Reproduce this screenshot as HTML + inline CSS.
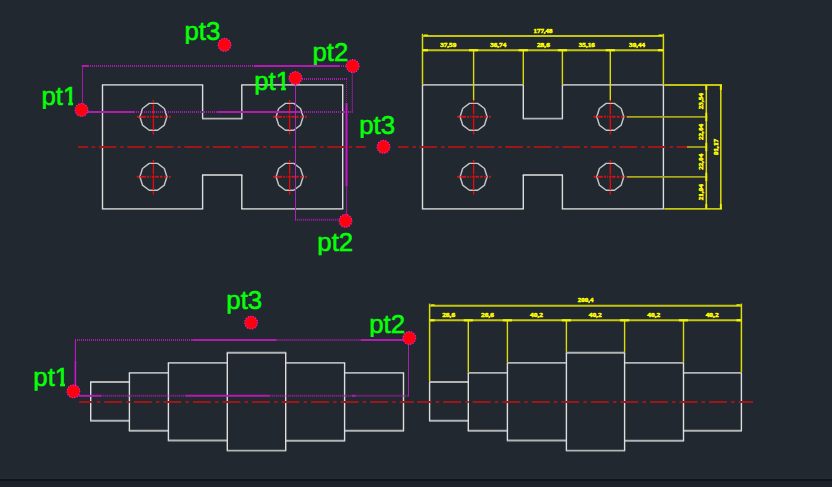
<!DOCTYPE html>
<html lang="en">
<head>
<meta charset="utf-8">
<title>CAD selection points</title>
<style>
html,body{margin:0;padding:0;background:#212830;overflow:hidden}
body{width:832px;height:487px;position:relative;font-family:"Liberation Sans",sans-serif}
svg{position:absolute;left:0;top:0;display:block}
.bar{position:absolute;left:0;top:479px;width:832px;height:8px;background:#1d212a;border-top:2px solid #11151a;box-sizing:border-box}
.glow{position:absolute;left:0;top:476px;width:832px;height:3px;background:linear-gradient(#212830,#232a34)}
text{font-family:"Liberation Sans",sans-serif}
text.d{font-family:"Liberation Serif",serif;font-weight:bold;font-size:6.3px;fill:#ffff00;stroke:#ffff00;stroke-width:0.5px;text-anchor:middle}
</style>
</head>
<body>
<div class="glow"></div>
<div class="bar"></div>
<svg width="832" height="487" viewBox="0 0 832 487">
<defs><clipPath id="desc" clipPathUnits="userSpaceOnUse"><rect x="-3" y="-30" width="60" height="34.4"/></clipPath><clipPath id="one" clipPathUnits="userSpaceOnUse"><path d="M-2 -30H40V-3.4H31.9V3H27V-3.4H-2Z"/></clipPath></defs>
<g id="plate-left">
<line x1="101.9" y1="84.9" x2="203.2" y2="84.9" stroke="#b2b4b6" stroke-width="1.9" />
<line x1="241.2" y1="84.9" x2="343.3" y2="84.9" stroke="#b2b4b6" stroke-width="1.9" />
<line x1="202" y1="118.6" x2="242.4" y2="118.6" stroke="#b2b4b6" stroke-width="1.9" />
<line x1="101.9" y1="208.9" x2="203.2" y2="208.9" stroke="#b2b4b6" stroke-width="1.9" />
<line x1="241.2" y1="208.9" x2="343.3" y2="208.9" stroke="#b2b4b6" stroke-width="1.9" />
<line x1="202" y1="175" x2="242.4" y2="175" stroke="#b2b4b6" stroke-width="1.9" />
<line x1="102.5" y1="84.9" x2="102.5" y2="208.9" stroke="#dededf" stroke-width="1.4" />
<line x1="342.7" y1="84.9" x2="342.7" y2="208.9" stroke="#dededf" stroke-width="1.4" />
<line x1="202.6" y1="84.9" x2="202.6" y2="118.6" stroke="#dededf" stroke-width="1.4" />
<line x1="241.8" y1="84.9" x2="241.8" y2="118.6" stroke="#dededf" stroke-width="1.4" />
<line x1="202.6" y1="175" x2="202.6" y2="208.9" stroke="#dededf" stroke-width="1.4" />
<line x1="241.8" y1="175" x2="241.8" y2="208.9" stroke="#dededf" stroke-width="1.4" />
<polygon points="166.9,116.8 164.32,108.51 157.57,103.39 149.23,103.39 142.48,108.51 139.9,116.8 142.48,125.09 149.23,130.21 157.57,130.21 164.32,125.09" fill="none" stroke="#c2c3c5" stroke-width="1.45" stroke-linejoin="round"/>
<line x1="136.8" y1="116.8" x2="139.2" y2="116.8" stroke="#d41214" stroke-width="1.9" />
<line x1="140.2" y1="116.8" x2="145.9" y2="116.8" stroke="#d41214" stroke-width="1.9" />
<line x1="147.1" y1="116.8" x2="148.9" y2="116.8" stroke="#d41214" stroke-width="1.9" />
<line x1="150.2" y1="116.8" x2="151.2" y2="116.8" stroke="#d41214" stroke-width="1.9" />
<line x1="152.1" y1="116.8" x2="154.5" y2="116.8" stroke="#d41214" stroke-width="1.9" />
<line x1="155.3" y1="116.8" x2="158.6" y2="116.8" stroke="#d41214" stroke-width="1.9" />
<line x1="160" y1="116.8" x2="162.4" y2="116.8" stroke="#d41214" stroke-width="1.9" />
<line x1="163.9" y1="116.8" x2="166.5" y2="116.8" stroke="#d41214" stroke-width="1.9" />
<line x1="168.9" y1="116.8" x2="170.7" y2="116.8" stroke="#d41214" stroke-width="1.9" />
<line x1="153.4" y1="99.9" x2="153.4" y2="103.1" stroke="#f00808" stroke-width="1.3" />
<line x1="153.4" y1="104.1" x2="153.4" y2="114.4" stroke="#f00808" stroke-width="1.3" />
<line x1="153.4" y1="115.4" x2="153.4" y2="117.3" stroke="#f00808" stroke-width="1.3" />
<line x1="153.4" y1="118.3" x2="153.4" y2="130.2" stroke="#f00808" stroke-width="1.3" />
<line x1="153.4" y1="131.2" x2="153.4" y2="134.4" stroke="#f00808" stroke-width="1.3" />
<polygon points="166.9,176.8 164.32,168.51 157.57,163.39 149.23,163.39 142.48,168.51 139.9,176.8 142.48,185.09 149.23,190.21 157.57,190.21 164.32,185.09" fill="none" stroke="#c2c3c5" stroke-width="1.45" stroke-linejoin="round"/>
<line x1="136.8" y1="176.8" x2="139.2" y2="176.8" stroke="#d41214" stroke-width="1.9" />
<line x1="140.2" y1="176.8" x2="145.9" y2="176.8" stroke="#d41214" stroke-width="1.9" />
<line x1="147.1" y1="176.8" x2="148.9" y2="176.8" stroke="#d41214" stroke-width="1.9" />
<line x1="150.2" y1="176.8" x2="151.2" y2="176.8" stroke="#d41214" stroke-width="1.9" />
<line x1="152.1" y1="176.8" x2="154.5" y2="176.8" stroke="#d41214" stroke-width="1.9" />
<line x1="155.3" y1="176.8" x2="158.6" y2="176.8" stroke="#d41214" stroke-width="1.9" />
<line x1="160" y1="176.8" x2="162.4" y2="176.8" stroke="#d41214" stroke-width="1.9" />
<line x1="163.9" y1="176.8" x2="166.5" y2="176.8" stroke="#d41214" stroke-width="1.9" />
<line x1="168.9" y1="176.8" x2="170.7" y2="176.8" stroke="#d41214" stroke-width="1.9" />
<line x1="153.4" y1="159.9" x2="153.4" y2="163.1" stroke="#f00808" stroke-width="1.3" />
<line x1="153.4" y1="164.1" x2="153.4" y2="174.4" stroke="#f00808" stroke-width="1.3" />
<line x1="153.4" y1="175.4" x2="153.4" y2="177.3" stroke="#f00808" stroke-width="1.3" />
<line x1="153.4" y1="178.3" x2="153.4" y2="190.2" stroke="#f00808" stroke-width="1.3" />
<line x1="153.4" y1="191.2" x2="153.4" y2="194.4" stroke="#f00808" stroke-width="1.3" />
<polygon points="303.1,116.8 300.52,108.51 293.77,103.39 285.43,103.39 278.68,108.51 276.1,116.8 278.68,125.09 285.43,130.21 293.77,130.21 300.52,125.09" fill="none" stroke="#c2c3c5" stroke-width="1.45" stroke-linejoin="round"/>
<line x1="273" y1="116.8" x2="275.4" y2="116.8" stroke="#d41214" stroke-width="1.9" />
<line x1="276.4" y1="116.8" x2="282.1" y2="116.8" stroke="#d41214" stroke-width="1.9" />
<line x1="283.3" y1="116.8" x2="285.1" y2="116.8" stroke="#d41214" stroke-width="1.9" />
<line x1="286.4" y1="116.8" x2="287.4" y2="116.8" stroke="#d41214" stroke-width="1.9" />
<line x1="288.3" y1="116.8" x2="290.7" y2="116.8" stroke="#d41214" stroke-width="1.9" />
<line x1="291.5" y1="116.8" x2="294.8" y2="116.8" stroke="#d41214" stroke-width="1.9" />
<line x1="296.2" y1="116.8" x2="298.6" y2="116.8" stroke="#d41214" stroke-width="1.9" />
<line x1="300.1" y1="116.8" x2="302.7" y2="116.8" stroke="#d41214" stroke-width="1.9" />
<line x1="305.1" y1="116.8" x2="306.9" y2="116.8" stroke="#d41214" stroke-width="1.9" />
<line x1="289.6" y1="99.9" x2="289.6" y2="103.1" stroke="#f00808" stroke-width="1.3" />
<line x1="289.6" y1="104.1" x2="289.6" y2="114.4" stroke="#f00808" stroke-width="1.3" />
<line x1="289.6" y1="115.4" x2="289.6" y2="117.3" stroke="#f00808" stroke-width="1.3" />
<line x1="289.6" y1="118.3" x2="289.6" y2="130.2" stroke="#f00808" stroke-width="1.3" />
<line x1="289.6" y1="131.2" x2="289.6" y2="134.4" stroke="#f00808" stroke-width="1.3" />
<polygon points="303.1,176.8 300.52,168.51 293.77,163.39 285.43,163.39 278.68,168.51 276.1,176.8 278.68,185.09 285.43,190.21 293.77,190.21 300.52,185.09" fill="none" stroke="#c2c3c5" stroke-width="1.45" stroke-linejoin="round"/>
<line x1="273" y1="176.8" x2="275.4" y2="176.8" stroke="#d41214" stroke-width="1.9" />
<line x1="276.4" y1="176.8" x2="282.1" y2="176.8" stroke="#d41214" stroke-width="1.9" />
<line x1="283.3" y1="176.8" x2="285.1" y2="176.8" stroke="#d41214" stroke-width="1.9" />
<line x1="286.4" y1="176.8" x2="287.4" y2="176.8" stroke="#d41214" stroke-width="1.9" />
<line x1="288.3" y1="176.8" x2="290.7" y2="176.8" stroke="#d41214" stroke-width="1.9" />
<line x1="291.5" y1="176.8" x2="294.8" y2="176.8" stroke="#d41214" stroke-width="1.9" />
<line x1="296.2" y1="176.8" x2="298.6" y2="176.8" stroke="#d41214" stroke-width="1.9" />
<line x1="300.1" y1="176.8" x2="302.7" y2="176.8" stroke="#d41214" stroke-width="1.9" />
<line x1="305.1" y1="176.8" x2="306.9" y2="176.8" stroke="#d41214" stroke-width="1.9" />
<line x1="289.6" y1="159.9" x2="289.6" y2="163.1" stroke="#f00808" stroke-width="1.3" />
<line x1="289.6" y1="164.1" x2="289.6" y2="174.4" stroke="#f00808" stroke-width="1.3" />
<line x1="289.6" y1="175.4" x2="289.6" y2="177.3" stroke="#f00808" stroke-width="1.3" />
<line x1="289.6" y1="178.3" x2="289.6" y2="190.2" stroke="#f00808" stroke-width="1.3" />
<line x1="289.6" y1="191.2" x2="289.6" y2="194.4" stroke="#f00808" stroke-width="1.3" />
</g>
<g id="plate-right">
<line x1="421.9" y1="84.9" x2="523.9" y2="84.9" stroke="#b2b4b6" stroke-width="1.9" />
<line x1="561.8" y1="84.9" x2="664" y2="84.9" stroke="#b2b4b6" stroke-width="1.9" />
<line x1="522.7" y1="118.6" x2="563" y2="118.6" stroke="#b2b4b6" stroke-width="1.9" />
<line x1="421.9" y1="208.9" x2="523.9" y2="208.9" stroke="#b2b4b6" stroke-width="1.9" />
<line x1="561.8" y1="208.9" x2="664" y2="208.9" stroke="#b2b4b6" stroke-width="1.9" />
<line x1="522.7" y1="175" x2="563" y2="175" stroke="#b2b4b6" stroke-width="1.9" />
<line x1="422.5" y1="84.9" x2="422.5" y2="208.9" stroke="#dededf" stroke-width="1.4" />
<line x1="663.4" y1="84.9" x2="663.4" y2="208.9" stroke="#dededf" stroke-width="1.4" />
<line x1="523.3" y1="84.9" x2="523.3" y2="118.6" stroke="#dededf" stroke-width="1.4" />
<line x1="562.4" y1="84.9" x2="562.4" y2="118.6" stroke="#dededf" stroke-width="1.4" />
<line x1="523.3" y1="175" x2="523.3" y2="208.9" stroke="#dededf" stroke-width="1.4" />
<line x1="562.4" y1="175" x2="562.4" y2="208.9" stroke="#dededf" stroke-width="1.4" />
<polygon points="487.1,116.8 484.52,108.51 477.77,103.39 469.43,103.39 462.68,108.51 460.1,116.8 462.68,125.09 469.43,130.21 477.77,130.21 484.52,125.09" fill="none" stroke="#c2c3c5" stroke-width="1.45" stroke-linejoin="round"/>
<line x1="457" y1="116.8" x2="459.4" y2="116.8" stroke="#d41214" stroke-width="1.9" />
<line x1="460.4" y1="116.8" x2="466.1" y2="116.8" stroke="#d41214" stroke-width="1.9" />
<line x1="467.3" y1="116.8" x2="469.1" y2="116.8" stroke="#d41214" stroke-width="1.9" />
<line x1="470.4" y1="116.8" x2="471.4" y2="116.8" stroke="#d41214" stroke-width="1.9" />
<line x1="472.3" y1="116.8" x2="474.7" y2="116.8" stroke="#d41214" stroke-width="1.9" />
<line x1="475.5" y1="116.8" x2="478.8" y2="116.8" stroke="#d41214" stroke-width="1.9" />
<line x1="480.2" y1="116.8" x2="482.6" y2="116.8" stroke="#d41214" stroke-width="1.9" />
<line x1="484.1" y1="116.8" x2="486.7" y2="116.8" stroke="#d41214" stroke-width="1.9" />
<line x1="489.1" y1="116.8" x2="490.9" y2="116.8" stroke="#d41214" stroke-width="1.9" />
<line x1="473.6" y1="99.9" x2="473.6" y2="103.1" stroke="#f00808" stroke-width="1.3" />
<line x1="473.6" y1="104.1" x2="473.6" y2="114.4" stroke="#f00808" stroke-width="1.3" />
<line x1="473.6" y1="115.4" x2="473.6" y2="117.3" stroke="#f00808" stroke-width="1.3" />
<line x1="473.6" y1="118.3" x2="473.6" y2="130.2" stroke="#f00808" stroke-width="1.3" />
<line x1="473.6" y1="131.2" x2="473.6" y2="134.4" stroke="#f00808" stroke-width="1.3" />
<polygon points="487.1,176.8 484.52,168.51 477.77,163.39 469.43,163.39 462.68,168.51 460.1,176.8 462.68,185.09 469.43,190.21 477.77,190.21 484.52,185.09" fill="none" stroke="#c2c3c5" stroke-width="1.45" stroke-linejoin="round"/>
<line x1="457" y1="176.8" x2="459.4" y2="176.8" stroke="#d41214" stroke-width="1.9" />
<line x1="460.4" y1="176.8" x2="466.1" y2="176.8" stroke="#d41214" stroke-width="1.9" />
<line x1="467.3" y1="176.8" x2="469.1" y2="176.8" stroke="#d41214" stroke-width="1.9" />
<line x1="470.4" y1="176.8" x2="471.4" y2="176.8" stroke="#d41214" stroke-width="1.9" />
<line x1="472.3" y1="176.8" x2="474.7" y2="176.8" stroke="#d41214" stroke-width="1.9" />
<line x1="475.5" y1="176.8" x2="478.8" y2="176.8" stroke="#d41214" stroke-width="1.9" />
<line x1="480.2" y1="176.8" x2="482.6" y2="176.8" stroke="#d41214" stroke-width="1.9" />
<line x1="484.1" y1="176.8" x2="486.7" y2="176.8" stroke="#d41214" stroke-width="1.9" />
<line x1="489.1" y1="176.8" x2="490.9" y2="176.8" stroke="#d41214" stroke-width="1.9" />
<line x1="473.6" y1="159.9" x2="473.6" y2="163.1" stroke="#f00808" stroke-width="1.3" />
<line x1="473.6" y1="164.1" x2="473.6" y2="174.4" stroke="#f00808" stroke-width="1.3" />
<line x1="473.6" y1="175.4" x2="473.6" y2="177.3" stroke="#f00808" stroke-width="1.3" />
<line x1="473.6" y1="178.3" x2="473.6" y2="190.2" stroke="#f00808" stroke-width="1.3" />
<line x1="473.6" y1="191.2" x2="473.6" y2="194.4" stroke="#f00808" stroke-width="1.3" />
<polygon points="623.8,116.8 621.22,108.51 614.47,103.39 606.13,103.39 599.38,108.51 596.8,116.8 599.38,125.09 606.13,130.21 614.47,130.21 621.22,125.09" fill="none" stroke="#c2c3c5" stroke-width="1.45" stroke-linejoin="round"/>
<line x1="593.7" y1="116.8" x2="596.1" y2="116.8" stroke="#d41214" stroke-width="1.9" />
<line x1="597.1" y1="116.8" x2="602.8" y2="116.8" stroke="#d41214" stroke-width="1.9" />
<line x1="604" y1="116.8" x2="605.8" y2="116.8" stroke="#d41214" stroke-width="1.9" />
<line x1="607.1" y1="116.8" x2="608.1" y2="116.8" stroke="#d41214" stroke-width="1.9" />
<line x1="609" y1="116.8" x2="611.4" y2="116.8" stroke="#d41214" stroke-width="1.9" />
<line x1="612.2" y1="116.8" x2="615.5" y2="116.8" stroke="#d41214" stroke-width="1.9" />
<line x1="616.9" y1="116.8" x2="619.3" y2="116.8" stroke="#d41214" stroke-width="1.9" />
<line x1="620.8" y1="116.8" x2="623.4" y2="116.8" stroke="#d41214" stroke-width="1.9" />
<line x1="625.8" y1="116.8" x2="627.6" y2="116.8" stroke="#d41214" stroke-width="1.9" />
<line x1="610.3" y1="99.9" x2="610.3" y2="103.1" stroke="#f00808" stroke-width="1.3" />
<line x1="610.3" y1="104.1" x2="610.3" y2="114.4" stroke="#f00808" stroke-width="1.3" />
<line x1="610.3" y1="115.4" x2="610.3" y2="117.3" stroke="#f00808" stroke-width="1.3" />
<line x1="610.3" y1="118.3" x2="610.3" y2="130.2" stroke="#f00808" stroke-width="1.3" />
<line x1="610.3" y1="131.2" x2="610.3" y2="134.4" stroke="#f00808" stroke-width="1.3" />
<polygon points="623.8,176.8 621.22,168.51 614.47,163.39 606.13,163.39 599.38,168.51 596.8,176.8 599.38,185.09 606.13,190.21 614.47,190.21 621.22,185.09" fill="none" stroke="#c2c3c5" stroke-width="1.45" stroke-linejoin="round"/>
<line x1="593.7" y1="176.8" x2="596.1" y2="176.8" stroke="#d41214" stroke-width="1.9" />
<line x1="597.1" y1="176.8" x2="602.8" y2="176.8" stroke="#d41214" stroke-width="1.9" />
<line x1="604" y1="176.8" x2="605.8" y2="176.8" stroke="#d41214" stroke-width="1.9" />
<line x1="607.1" y1="176.8" x2="608.1" y2="176.8" stroke="#d41214" stroke-width="1.9" />
<line x1="609" y1="176.8" x2="611.4" y2="176.8" stroke="#d41214" stroke-width="1.9" />
<line x1="612.2" y1="176.8" x2="615.5" y2="176.8" stroke="#d41214" stroke-width="1.9" />
<line x1="616.9" y1="176.8" x2="619.3" y2="176.8" stroke="#d41214" stroke-width="1.9" />
<line x1="620.8" y1="176.8" x2="623.4" y2="176.8" stroke="#d41214" stroke-width="1.9" />
<line x1="625.8" y1="176.8" x2="627.6" y2="176.8" stroke="#d41214" stroke-width="1.9" />
<line x1="610.3" y1="159.9" x2="610.3" y2="163.1" stroke="#f00808" stroke-width="1.3" />
<line x1="610.3" y1="164.1" x2="610.3" y2="174.4" stroke="#f00808" stroke-width="1.3" />
<line x1="610.3" y1="175.4" x2="610.3" y2="177.3" stroke="#f00808" stroke-width="1.3" />
<line x1="610.3" y1="178.3" x2="610.3" y2="190.2" stroke="#f00808" stroke-width="1.3" />
<line x1="610.3" y1="191.2" x2="610.3" y2="194.4" stroke="#f00808" stroke-width="1.3" />
</g>
<g id="centre-top">
<line x1="78" y1="147" x2="365.8" y2="147" stroke="#9e1618" stroke-width="2" stroke-dasharray="17.7 3.9 3.4 3.57" stroke-dashoffset="7.87"/>
<line x1="398" y1="147" x2="687" y2="147" stroke="#9e1618" stroke-width="2" stroke-dasharray="17.7 3.9 3.4 3.57" stroke-dashoffset="7.07"/>
<line x1="687" y1="147" x2="707" y2="147" stroke="#a8a818" stroke-width="1.8" />
</g>
<g id="dims-top">
<line x1="422.5" y1="33.8" x2="422.5" y2="84.2" stroke="#dcdc08" stroke-width="1.5" />
<line x1="663.4" y1="33.8" x2="663.4" y2="84.2" stroke="#dcdc08" stroke-width="1.5" />
<line x1="523.3" y1="50.2" x2="523.3" y2="84.2" stroke="#dcdc08" stroke-width="1.4" />
<line x1="562.4" y1="50.2" x2="562.4" y2="84.2" stroke="#dcdc08" stroke-width="1.4" />
<line x1="473.6" y1="50.2" x2="473.6" y2="100.2" stroke="#dcdc08" stroke-width="1.4" />
<line x1="610.3" y1="50.2" x2="610.3" y2="100.2" stroke="#dcdc08" stroke-width="1.4" />
<line x1="422.5" y1="36" x2="663.4" y2="36" stroke="#c6c610" stroke-width="2" />
<line x1="422.5" y1="50.2" x2="663.4" y2="50.2" stroke="#c6c610" stroke-width="2" />
<line x1="469" y1="50.2" x2="478.2" y2="50.2" stroke="#f4f400" stroke-width="2.2" />
<line x1="518.7" y1="50.2" x2="527.9" y2="50.2" stroke="#f4f400" stroke-width="2.2" />
<line x1="557.8" y1="50.2" x2="567" y2="50.2" stroke="#f4f400" stroke-width="2.2" />
<line x1="605.7" y1="50.2" x2="614.9" y2="50.2" stroke="#f4f400" stroke-width="2.2" />
<line x1="422.5" y1="50.2" x2="428" y2="50.2" stroke="#f4f400" stroke-width="2.2" />
<line x1="658" y1="50.2" x2="663.4" y2="50.2" stroke="#f4f400" stroke-width="2.2" />
<line x1="424" y1="35.2" x2="428" y2="35.2" stroke="#f4f400" stroke-width="1.4" />
<line x1="658.5" y1="35.2" x2="662.5" y2="35.2" stroke="#f4f400" stroke-width="1.4" />
<text x="543" y="32.5" class="d" textLength="19" lengthAdjust="spacingAndGlyphs">177,48</text>
<text x="448.2" y="47" class="d" textLength="16" lengthAdjust="spacingAndGlyphs">37,59</text>
<text x="498.2" y="47" class="d" textLength="16" lengthAdjust="spacingAndGlyphs">36,74</text>
<text x="543.4" y="47" class="d" textLength="13" lengthAdjust="spacingAndGlyphs">28,6</text>
<text x="586.8" y="47" class="d" textLength="16" lengthAdjust="spacingAndGlyphs">35,16</text>
<text x="637.1" y="47" class="d" textLength="16" lengthAdjust="spacingAndGlyphs">39,44</text>
</g>
<g id="dims-right">
<line x1="664.2" y1="85" x2="722" y2="85" stroke="#c6c610" stroke-width="1.8" />
<line x1="664.2" y1="208.9" x2="722" y2="208.9" stroke="#c6c610" stroke-width="1.8" />
<line x1="627" y1="116.9" x2="707.2" y2="116.9" stroke="#a8a818" stroke-width="1.8" />
<line x1="627" y1="176.9" x2="707.2" y2="176.9" stroke="#a8a818" stroke-width="1.8" />
<line x1="706.3" y1="85" x2="706.3" y2="208.9" stroke="#dcdc08" stroke-width="1.5" />
<line x1="720.8" y1="85" x2="720.8" y2="208.9" stroke="#dcdc08" stroke-width="1.5" />
<line x1="706.3" y1="112.7" x2="706.3" y2="121.1" stroke="#f0f000" stroke-width="1.9" />
<line x1="706.3" y1="142.8" x2="706.3" y2="151.2" stroke="#f0f000" stroke-width="1.9" />
<line x1="706.3" y1="172.7" x2="706.3" y2="181.1" stroke="#f0f000" stroke-width="1.9" />
<line x1="706.3" y1="85" x2="706.3" y2="90" stroke="#f0f000" stroke-width="1.9" />
<line x1="706.3" y1="203.9" x2="706.3" y2="208.9" stroke="#f0f000" stroke-width="1.9" />
<line x1="720.8" y1="85" x2="720.8" y2="90" stroke="#f0f000" stroke-width="1.9" />
<line x1="720.8" y1="203.9" x2="720.8" y2="208.9" stroke="#f0f000" stroke-width="1.9" />
<text transform="translate(702.9 101.2) rotate(-90)" x="0" y="0" class="d" textLength="16" lengthAdjust="spacingAndGlyphs">23,54</text>
<text transform="translate(702.9 132) rotate(-90)" x="0" y="0" class="d" textLength="16" lengthAdjust="spacingAndGlyphs">22,04</text>
<text transform="translate(702.9 161.8) rotate(-90)" x="0" y="0" class="d" textLength="16" lengthAdjust="spacingAndGlyphs">22,04</text>
<text transform="translate(702.9 192.2) rotate(-90)" x="0" y="0" class="d" textLength="16" lengthAdjust="spacingAndGlyphs">21,94</text>
<text transform="translate(717.5 147) rotate(-90)" x="0" y="0" class="d" textLength="16" lengthAdjust="spacingAndGlyphs">91,17</text>
</g>
<g id="shaft-left">
<line x1="90.1" y1="382" x2="130" y2="382" stroke="#b2b4b6" stroke-width="1.9" />
<line x1="90.1" y1="420.8" x2="130" y2="420.8" stroke="#b2b4b6" stroke-width="1.9" />
<line x1="128.8" y1="372.9" x2="169" y2="372.9" stroke="#b2b4b6" stroke-width="1.9" />
<line x1="128.8" y1="430.7" x2="169" y2="430.7" stroke="#b2b4b6" stroke-width="1.9" />
<line x1="167.8" y1="362.9" x2="227.9" y2="362.9" stroke="#b2b4b6" stroke-width="1.9" />
<line x1="167.8" y1="440.5" x2="227.9" y2="440.5" stroke="#b2b4b6" stroke-width="1.9" />
<line x1="226.7" y1="352.7" x2="286.3" y2="352.7" stroke="#b2b4b6" stroke-width="1.9" />
<line x1="226.7" y1="450.6" x2="286.3" y2="450.6" stroke="#b2b4b6" stroke-width="1.9" />
<line x1="285.1" y1="362.9" x2="345.2" y2="362.9" stroke="#b2b4b6" stroke-width="1.9" />
<line x1="285.1" y1="440.8" x2="345.2" y2="440.8" stroke="#b2b4b6" stroke-width="1.9" />
<line x1="344" y1="372.9" x2="404.1" y2="372.9" stroke="#b2b4b6" stroke-width="1.9" />
<line x1="344" y1="430.7" x2="404.1" y2="430.7" stroke="#b2b4b6" stroke-width="1.9" />
<line x1="90.7" y1="382" x2="90.7" y2="420.8" stroke="#dededf" stroke-width="1.4" />
<line x1="129.4" y1="372.9" x2="129.4" y2="430.7" stroke="#dededf" stroke-width="1.4" />
<line x1="168.4" y1="362.9" x2="168.4" y2="440.5" stroke="#dededf" stroke-width="1.4" />
<line x1="227.3" y1="352.7" x2="227.3" y2="450.6" stroke="#dededf" stroke-width="1.4" />
<line x1="285.7" y1="352.7" x2="285.7" y2="450.6" stroke="#dededf" stroke-width="1.4" />
<line x1="344.6" y1="362.9" x2="344.6" y2="440.8" stroke="#dededf" stroke-width="1.4" />
<line x1="403.5" y1="372.9" x2="403.5" y2="430.7" stroke="#dededf" stroke-width="1.4" />
</g>
<g id="shaft-right">
<line x1="429" y1="382" x2="468.9" y2="382" stroke="#b2b4b6" stroke-width="1.9" />
<line x1="429" y1="420.8" x2="468.9" y2="420.8" stroke="#b2b4b6" stroke-width="1.9" />
<line x1="467.7" y1="372.9" x2="508" y2="372.9" stroke="#b2b4b6" stroke-width="1.9" />
<line x1="467.7" y1="430.7" x2="508" y2="430.7" stroke="#b2b4b6" stroke-width="1.9" />
<line x1="506.8" y1="362.9" x2="567" y2="362.9" stroke="#b2b4b6" stroke-width="1.9" />
<line x1="506.8" y1="440.5" x2="567" y2="440.5" stroke="#b2b4b6" stroke-width="1.9" />
<line x1="565.8" y1="352.7" x2="625.2" y2="352.7" stroke="#b2b4b6" stroke-width="1.9" />
<line x1="565.8" y1="450.6" x2="625.2" y2="450.6" stroke="#b2b4b6" stroke-width="1.9" />
<line x1="624" y1="362.9" x2="684.1" y2="362.9" stroke="#b2b4b6" stroke-width="1.9" />
<line x1="624" y1="440.8" x2="684.1" y2="440.8" stroke="#b2b4b6" stroke-width="1.9" />
<line x1="682.9" y1="372.9" x2="742" y2="372.9" stroke="#b2b4b6" stroke-width="1.9" />
<line x1="682.9" y1="430.7" x2="742" y2="430.7" stroke="#b2b4b6" stroke-width="1.9" />
<line x1="429.6" y1="382" x2="429.6" y2="420.8" stroke="#dededf" stroke-width="1.4" />
<line x1="468.3" y1="372.9" x2="468.3" y2="430.7" stroke="#dededf" stroke-width="1.4" />
<line x1="507.4" y1="362.9" x2="507.4" y2="440.5" stroke="#dededf" stroke-width="1.4" />
<line x1="566.4" y1="352.7" x2="566.4" y2="450.6" stroke="#dededf" stroke-width="1.4" />
<line x1="624.6" y1="352.7" x2="624.6" y2="450.6" stroke="#dededf" stroke-width="1.4" />
<line x1="683.5" y1="362.9" x2="683.5" y2="440.8" stroke="#dededf" stroke-width="1.4" />
<line x1="741.4" y1="372.9" x2="741.4" y2="430.7" stroke="#dededf" stroke-width="1.4" />
</g>
<g id="centre-bottom">
<line x1="79.2" y1="401.9" x2="414" y2="401.9" stroke="#9e1618" stroke-width="2" stroke-dasharray="18 4.1 3.5 3.95" stroke-dashoffset="4.55"/>
<line x1="417.1" y1="401.9" x2="753.1" y2="401.9" stroke="#9e1618" stroke-width="2" stroke-dasharray="18 4.1 3.5 3.95" stroke-dashoffset="3.55"/>
</g>
<g id="dims-bottom">
<line x1="429.6" y1="303.6" x2="429.6" y2="381.2" stroke="#dcdc08" stroke-width="1.5" />
<line x1="741.4" y1="303.6" x2="741.4" y2="372.1" stroke="#dcdc08" stroke-width="1.5" />
<line x1="468.3" y1="320.3" x2="468.3" y2="372.1" stroke="#dcdc08" stroke-width="1.4" />
<line x1="507.4" y1="320.3" x2="507.4" y2="362.1" stroke="#dcdc08" stroke-width="1.4" />
<line x1="566.4" y1="320.3" x2="566.4" y2="351.9" stroke="#dcdc08" stroke-width="1.4" />
<line x1="624.6" y1="320.3" x2="624.6" y2="351.9" stroke="#dcdc08" stroke-width="1.4" />
<line x1="683.5" y1="320.3" x2="683.5" y2="362.1" stroke="#dcdc08" stroke-width="1.4" />
<line x1="429.6" y1="305.8" x2="741.4" y2="305.8" stroke="#c6c610" stroke-width="2" />
<line x1="429.6" y1="320.3" x2="741.4" y2="320.3" stroke="#c6c610" stroke-width="2" />
<line x1="463.7" y1="320.3" x2="472.9" y2="320.3" stroke="#f4f400" stroke-width="2.2" />
<line x1="502.8" y1="320.3" x2="512" y2="320.3" stroke="#f4f400" stroke-width="2.2" />
<line x1="561.8" y1="320.3" x2="571" y2="320.3" stroke="#f4f400" stroke-width="2.2" />
<line x1="620" y1="320.3" x2="629.2" y2="320.3" stroke="#f4f400" stroke-width="2.2" />
<line x1="678.9" y1="320.3" x2="688.1" y2="320.3" stroke="#f4f400" stroke-width="2.2" />
<line x1="429.6" y1="320.3" x2="434.6" y2="320.3" stroke="#f4f400" stroke-width="2.2" />
<line x1="736.4" y1="320.3" x2="741.4" y2="320.3" stroke="#f4f400" stroke-width="2.2" />
<line x1="431.1" y1="305" x2="434.6" y2="305" stroke="#f4f400" stroke-width="1.4" />
<line x1="736.4" y1="305" x2="740.4" y2="305" stroke="#f4f400" stroke-width="1.4" />
<text x="585.6" y="302.2" class="d" textLength="15.5" lengthAdjust="spacingAndGlyphs">200,4</text>
<text x="448.65" y="317.1" class="d" textLength="13" lengthAdjust="spacingAndGlyphs">26,6</text>
<text x="487.55" y="317.1" class="d" textLength="13" lengthAdjust="spacingAndGlyphs">26,6</text>
<text x="536.6" y="317.1" class="d" textLength="13" lengthAdjust="spacingAndGlyphs">40,2</text>
<text x="595.2" y="317.1" class="d" textLength="13" lengthAdjust="spacingAndGlyphs">40,2</text>
<text x="653.75" y="317.1" class="d" textLength="13" lengthAdjust="spacingAndGlyphs">40,2</text>
<text x="712.15" y="317.1" class="d" textLength="13" lengthAdjust="spacingAndGlyphs">40,2</text>
</g>
<g id="sel-1">
<line x1="82.5" y1="66" x2="82.5" y2="104" stroke="#a81ca8" stroke-width="1.1" opacity="0.9"/>
<line x1="81.8" y1="66" x2="88" y2="66" stroke="#b01cb0" stroke-width="2" />
<line x1="88" y1="66" x2="253.8" y2="66" stroke="#b01cb0" stroke-width="2" stroke-dasharray="1 1" opacity="0.95"/>
<line x1="253.8" y1="66" x2="339" y2="66" stroke="#b01cb0" stroke-width="2" />
<line x1="339" y1="66" x2="347" y2="66" stroke="#b01cb0" stroke-width="2" stroke-dasharray="1 1" opacity="0.95"/>
<line x1="352.3" y1="66" x2="352.3" y2="112.5" stroke="#a81ca8" stroke-width="1" opacity="0.8"/>
<line x1="87" y1="112" x2="134" y2="112" stroke="#b01cb0" stroke-width="2" />
<line x1="134" y1="112" x2="217.5" y2="112" stroke="#b01cb0" stroke-width="2" stroke-dasharray="1 1" opacity="0.95"/>
<line x1="217.5" y1="112" x2="300" y2="112" stroke="#b01cb0" stroke-width="2" />
<line x1="300" y1="112" x2="352.6" y2="112" stroke="#b01cb0" stroke-width="2" stroke-dasharray="1 1" opacity="0.95"/>
</g>
<g id="sel-2">
<line x1="300" y1="79" x2="347" y2="79" stroke="#b01cb0" stroke-width="2" stroke-dasharray="1 1" opacity="0.95"/>
<line x1="295.5" y1="84" x2="295.5" y2="220.6" stroke="#c022c4" stroke-width="1" opacity="0.92"/>
<line x1="295.2" y1="219.8" x2="340" y2="219.8" stroke="#b01cb0" stroke-width="2" stroke-dasharray="1 1" opacity="0.95"/>
<line x1="346.5" y1="79" x2="346.5" y2="103" stroke="#b01cb0" stroke-width="1.1" stroke-dasharray="1 1" opacity="0.8"/>
<line x1="346.5" y1="103" x2="346.5" y2="186.4" stroke="#cc14cc" stroke-width="2" />
<line x1="346.6" y1="186.4" x2="346.6" y2="215" stroke="#a81ca8" stroke-width="1.1" opacity="0.9"/>
</g>
<g id="sel-3">
<line x1="75.4" y1="340" x2="75.4" y2="361" stroke="#d018d0" stroke-width="1" />
<line x1="75.4" y1="361" x2="75.4" y2="386" stroke="#d414d4" stroke-width="1.5" />
<line x1="75" y1="340" x2="192.2" y2="340" stroke="#b01cb0" stroke-width="2" stroke-dasharray="1 1" opacity="0.95"/>
<line x1="192.2" y1="340" x2="276.4" y2="340" stroke="#b01cb0" stroke-width="2" />
<line x1="276.4" y1="340" x2="360.4" y2="340" stroke="#b01cb0" stroke-width="2" stroke-dasharray="1 1" opacity="0.95"/>
<line x1="360.4" y1="340" x2="404" y2="340" stroke="#b01cb0" stroke-width="2" />
<line x1="408.5" y1="343" x2="408.5" y2="396.6" stroke="#a822a8" stroke-width="1" />
<line x1="78.5" y1="395.8" x2="101.3" y2="395.8" stroke="#b01cb0" stroke-width="2" />
<line x1="101.3" y1="395.8" x2="185.2" y2="395.8" stroke="#b01cb0" stroke-width="2" stroke-dasharray="1 1" opacity="0.95"/>
<line x1="185.2" y1="395.8" x2="269.7" y2="395.8" stroke="#b01cb0" stroke-width="2" />
<line x1="269.7" y1="395.8" x2="351.6" y2="395.8" stroke="#b01cb0" stroke-width="2" stroke-dasharray="1 1" opacity="0.95"/>
<line x1="351.6" y1="395.8" x2="355.4" y2="395.8" stroke="#b01cb0" stroke-width="2" />
<line x1="355.4" y1="395.8" x2="409.3" y2="395.8" stroke="#b01cb0" stroke-width="2" stroke-dasharray="1 1" opacity="0.95"/>
</g>
<g id="points">
<circle cx="224.5" cy="44.8" r="6.5" fill="#ff0010"/>
<circle cx="224.5" cy="44.8" r="6.4" fill="none" stroke="#ff28e0" stroke-width="1.1" stroke-dasharray="1.2 1.4" opacity="0.9"/>
<circle cx="81.5" cy="109.9" r="6.5" fill="#ff0010"/>
<circle cx="81.5" cy="109.9" r="6.4" fill="none" stroke="#ff28e0" stroke-width="1.1" stroke-dasharray="1.2 1.4" opacity="0.9"/>
<circle cx="352.7" cy="66" r="6.5" fill="#ff0010"/>
<circle cx="352.7" cy="66" r="6.4" fill="none" stroke="#ff28e0" stroke-width="1.1" stroke-dasharray="1.2 1.4" opacity="0.9"/>
<circle cx="295.4" cy="78" r="6.5" fill="#ff0010"/>
<circle cx="295.4" cy="78" r="6.4" fill="none" stroke="#ff28e0" stroke-width="1.1" stroke-dasharray="1.2 1.4" opacity="0.9"/>
<circle cx="383.5" cy="146.8" r="6.5" fill="#ff0010"/>
<circle cx="383.5" cy="146.8" r="6.4" fill="none" stroke="#ff28e0" stroke-width="1.1" stroke-dasharray="1.2 1.4" opacity="0.9"/>
<circle cx="345.5" cy="220.8" r="6.5" fill="#ff0010"/>
<circle cx="345.5" cy="220.8" r="6.4" fill="none" stroke="#ff28e0" stroke-width="1.1" stroke-dasharray="1.2 1.4" opacity="0.9"/>
<circle cx="251.1" cy="322.6" r="6.5" fill="#ff0010"/>
<circle cx="251.1" cy="322.6" r="6.4" fill="none" stroke="#ff28e0" stroke-width="1.1" stroke-dasharray="1.2 1.4" opacity="0.9"/>
<circle cx="409.3" cy="338" r="6.5" fill="#ff0010"/>
<circle cx="409.3" cy="338" r="6.4" fill="none" stroke="#ff28e0" stroke-width="1.1" stroke-dasharray="1.2 1.4" opacity="0.9"/>
<circle cx="73.4" cy="391.3" r="6.5" fill="#ff0010"/>
<circle cx="73.4" cy="391.3" r="6.4" fill="none" stroke="#ff28e0" stroke-width="1.1" stroke-dasharray="1.2 1.4" opacity="0.9"/>
</g>
<g id="labels">
<g transform="translate(184.4 39.7) scale(0.9934 1)" clip-path="url(#desc)">
<text x="0" y="0" font-size="26" fill="#08ff08" stroke="#08ff08" stroke-width="0.55">pt3</text>
</g>
<g transform="translate(41.4 104.5) scale(0.9934 1)" clip-path="url(#desc)">
<text x="0" y="0" font-size="26" fill="#08ff08" stroke="#08ff08" stroke-width="0.55">pt</text>
<text x="21.68" y="0" font-size="26" fill="#08ff08" stroke="#08ff08" stroke-width="0.55" clip-path="url(#one)">1</text>
</g>
<g transform="translate(312.4 60.7) scale(0.9934 1)" clip-path="url(#desc)">
<text x="0" y="0" font-size="26" fill="#08ff08" stroke="#08ff08" stroke-width="0.55">pt2</text>
</g>
<g transform="translate(254.2 90.3) scale(0.9934 1)" clip-path="url(#desc)">
<text x="0" y="0" font-size="26" fill="#08ff08" stroke="#08ff08" stroke-width="0.55">pt</text>
<text x="21.68" y="0" font-size="26" fill="#08ff08" stroke="#08ff08" stroke-width="0.55" clip-path="url(#one)">1</text>
</g>
<g transform="translate(359.2 133.6) scale(0.9934 1)" clip-path="url(#desc)">
<text x="0" y="0" font-size="26" fill="#08ff08" stroke="#08ff08" stroke-width="0.55">pt3</text>
</g>
<g transform="translate(317.3 250.75) scale(0.9934 1)" clip-path="url(#desc)">
<text x="0" y="0" font-size="26" fill="#08ff08" stroke="#08ff08" stroke-width="0.55">pt2</text>
</g>
<g transform="translate(226.3 309.4) scale(0.9934 1)" clip-path="url(#desc)">
<text x="0" y="0" font-size="26" fill="#08ff08" stroke="#08ff08" stroke-width="0.55">pt3</text>
</g>
<g transform="translate(369.2 332.6) scale(0.9934 1)" clip-path="url(#desc)">
<text x="0" y="0" font-size="26" fill="#08ff08" stroke="#08ff08" stroke-width="0.55">pt2</text>
</g>
<g transform="translate(33.3 386.3) scale(0.9934 1)" clip-path="url(#desc)">
<text x="0" y="0" font-size="26" fill="#08ff08" stroke="#08ff08" stroke-width="0.55">pt</text>
<text x="21.68" y="0" font-size="26" fill="#08ff08" stroke="#08ff08" stroke-width="0.55" clip-path="url(#one)">1</text>
</g>
</g>
</svg>
</body>
</html>
